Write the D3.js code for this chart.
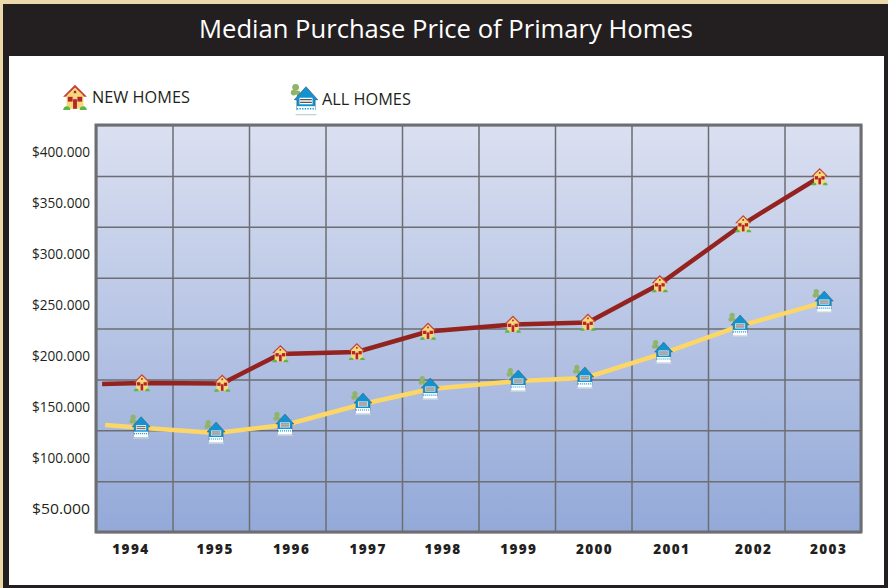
<!DOCTYPE html>
<html lang="en">

<head>
	<meta charset="UTF-8">
	<title>Median Purchase Price of Primary Homes</title>
	<script src="https://cdn.jsdelivr.net/npm/d3@7/dist/d3.min.js" charset="UTF-8"></script>
	<style>
		body { margin: 0; background: #fff; }
		svg { display: block; }
	</style>
</head>

<body>
	<script>
	var years = [1994, 1995, 1996, 1997, 1998, 1999, 2000, 2001, 2002, 2003];
	// where each year label sits on the time axis in the picture
	var yearLabelTimes = [1993.95, 1995.05, 1996.05, 1997.05, 1998.03, 1999.02, 2000.01, 2001.02, 2002.09, 2003.07];
	var gridTimes = [1993.5, 1994.5, 1995.5, 1996.5, 1997.5, 1998.5, 1999.5, 2000.5, 2001.5, 2002.5, 2003.5];
	var gridPrices = [25000, 75000, 125000, 175000, 225000, 275000, 325000, 375000, 425000];
	var priceLabels = [50000, 100000, 150000, 200000, 250000, 300000, 350000, 400000];

	// the lines start a little before the first house, so one extra leading point
	var newTimes = [1993.58, 1994.10, 1995.15, 1995.91, 1996.91, 1997.84, 1998.95, 1999.93, 2000.87, 2001.96, 2002.96];
	var newPrices = [170500, 171400, 171000, 200000, 202000, 222000, 228900, 230900, 268700, 327700, 373900];
	var allTimes = [1993.62, 1994.09, 1995.07, 1995.97, 1996.99, 1997.87, 1999.02, 1999.89, 2000.92, 2001.92, 2003.02];
	var allPrices = [130200, 127500, 122300, 130200, 150800, 165500, 173400, 176400, 200900, 227500, 251000];

	var width = 888,
		height = 588;

	var plot = {
		left: 96,
		right: 861,
		top: 125,
		bottom: 532
	};

	var svg = d3.select('body').append('svg')
		.attr('width', width)
		.attr('height', height);

	var defs = svg.append('defs');

	var grad = defs.append('linearGradient')
		.attr('id', 'plotFill')
		.attr('x1', 0).attr('y1', 0)
		.attr('x2', 0).attr('y2', 1);
	grad.append('stop').attr('offset', '0%').attr('stop-color', '#dbe0f1');
	grad.append('stop').attr('offset', '100%').attr('stop-color', '#93a9d8');

	// small house, drawn around 0,0 in a 24 unit box
	var newHouse = defs.append('g').attr('id', 'newHouse');
	newHouse.append('rect').attr('x', -7).attr('y', -3).attr('width', 14).attr('height', 12).attr('fill', '#f5d77c');
	newHouse.append('path').attr('d', 'M0,-11 L10,-1 L7.5,-1 L0,-8.5 L-7.5,-1 L-10,-1 Z').attr('fill', '#c8423a');
	newHouse.append('path').attr('d', 'M0,-8.5 L7,-2 L-7,-2 Z').attr('fill', '#f5d77c');
	newHouse.append('rect').attr('x', -6).attr('y', -1).attr('width', 4).attr('height', 4).attr('fill', '#b5252a');
	newHouse.append('rect').attr('x', 2).attr('y', -1).attr('width', 4).attr('height', 4).attr('fill', '#b5252a');
	newHouse.append('rect').attr('x', -1.6).attr('y', 1).attr('width', 3.2).attr('height', 8).attr('fill', '#b5252a');
	newHouse.append('rect').attr('x', -1).attr('y', -6).attr('width', 2).attr('height', 2).attr('fill', '#b5252a');
	newHouse.append('path').attr('d', 'M-10,10 Q-9,6 -6,7 Q-4,7 -4,10 Z M4,10 Q4,7 6,7 Q9,6 10,10 Z').attr('fill', '#5fb544');

	var allHouse = defs.append('g').attr('id', 'allHouse');
	allHouse.append('path').attr('d', 'M-6,-2 L-7,-8').attr('stroke', '#7b8a5a').attr('stroke-width', 1).attr('fill', 'none');
	allHouse.append('circle').attr('cx', -8).attr('cy', -10.5).attr('r', 2.6).attr('fill', '#8fb46a');
	allHouse.append('circle').attr('cx', -9.5).attr('cy', -6.5).attr('r', 2.2).attr('fill', '#8fb46a');
	allHouse.append('circle').attr('cx', -6).attr('cy', -6).attr('r', 1.8).attr('fill', '#8fb46a');
	allHouse.append('path').attr('d', 'M0,-11 L9,-1 L7,-1 L7,7 L-7,7 L-7,-1 L-9,-1 Z').attr('fill', '#1293d0').attr('stroke', '#34566e').attr('stroke-width', 0.5);
	allHouse.append('rect').attr('x', -5).attr('y', -2.5).attr('width', 10).attr('height', 5).attr('fill', '#fff');
	allHouse.append('path').attr('d', 'M-4.5,-1 H4.5 M-4.5,1 H4.5').attr('stroke', '#555').attr('stroke-width', 1).attr('fill', 'none');
	allHouse.append('rect').attr('x', -7).attr('y', 4).attr('width', 14).attr('height', 5.5).attr('fill', '#fff');
	allHouse.append('path').attr('d', 'M-7,6 H7').attr('stroke', '#1293d0').attr('stroke-width', 1.2).attr('stroke-dasharray', '1 1').attr('fill', 'none');
	allHouse.append('path').attr('d', 'M-8,10.5 H8').attr('stroke', '#c3d3dc').attr('stroke-width', 1).attr('fill', 'none');

	var xScale = d3.scaleLinear()
		.domain([1993.5, 2003.5])
		.range([plot.left, plot.right]);
	var yScale = d3.scaleLinear()
		.domain([25000, 425000])
		.range([plot.bottom, plot.top]);

	var priceFormat = d3.formatLocale({
		decimal: ',',
		thousands: '.',
		grouping: [3],
		currency: ['$', '']
	}).format('$,');

	function drawFrame() {
		svg.append('rect').attr('width', width).attr('height', height).attr('fill', '#ecd9ab');
		svg.append('rect').attr('x', 3).attr('y', 4).attr('width', width - 3).attr('height', height - 4).attr('fill', '#231f20');
		svg.append('rect').attr('x', 9).attr('y', 56).attr('width', 875).attr('height', 529).attr('fill', '#fff');

		svg.append('text')
			.attr('x', 446)
			.attr('y', 38)
			.attr('text-anchor', 'middle')
			.attr('font-family', '"Open Sans", sans-serif')
			.attr('font-size', 25.6)
			.attr('fill', '#fff')
			.text('Median Purchase Price of Primary Homes');
	}

	function drawGrid() {
		svg.append('rect')
			.attr('x', plot.left)
			.attr('y', plot.top)
			.attr('width', plot.right - plot.left)
			.attr('height', plot.bottom - plot.top)
			.attr('fill', 'url(#plotFill)');

		var xGrid = d3.axisBottom(xScale)
			.tickValues(gridTimes)
			.tickSize(plot.top - plot.bottom)
			.tickFormat('');
		var yGrid = d3.axisLeft(yScale)
			.tickValues(gridPrices)
			.tickSize(plot.left - plot.right)
			.tickFormat('');

		svg.append('g')
			.attr('transform', `translate(0,${plot.bottom})`)
			.call(xGrid)
			.call(g => g.select('.domain').remove())
			.selectAll('line').attr('stroke', '#6d6e72').attr('stroke-width', 1.5);

		svg.append('g')
			.attr('transform', `translate(${plot.left},0)`)
			.call(yGrid)
			.call(g => g.select('.domain').remove())
			.selectAll('line').attr('stroke', '#6d6e72').attr('stroke-width', 1.5);

		svg.append('rect')
			.attr('x', plot.left)
			.attr('y', plot.top)
			.attr('width', plot.right - plot.left)
			.attr('height', plot.bottom - plot.top)
			.attr('fill', 'none')
			.attr('stroke', '#6d6e72')
			.attr('stroke-width', 3);
	}

	function drawAxis() {
		var yAxis = d3.axisLeft(yScale)
			.tickValues(priceLabels)
			.tickSize(0)
			.tickPadding(6)
			.tickFormat(priceFormat);

		var yLabels = svg.append('g')
			.attr('transform', `translate(${plot.left},0)`)
			.call(yAxis);
		yLabels.select('.domain').remove();
		yLabels.selectAll('text')
			.attr('font-family', '"Open Sans", sans-serif')
			.attr('font-size', 14.5)
			.attr('fill', '#231f20')
			.attr('dy', '0.45em')
			.attr('textLength', 58)
			.attr('lengthAdjust', 'spacingAndGlyphs');

		var xAxis = d3.axisBottom(xScale)
			.tickValues(yearLabelTimes)
			.tickSize(0)
			.tickPadding(12)
			.tickFormat((d, i) => years[i]);

		var xLabels = svg.append('g')
			.attr('transform', `translate(0,${plot.bottom})`)
			.call(xAxis);
		xLabels.select('.domain').remove();
		xLabels.selectAll('text')
			.attr('font-family', '"Open Sans", sans-serif')
			.attr('font-size', 13.5)
			.attr('font-weight', 800)
			.attr('letter-spacing', 1.4)
			.attr('fill', '#231f20');
	}

	function drawSeries(times, prices, color, icon, iconScale) {
		var points = times.map((t, i) => [t, prices[i]]);
		var line = d3.line()
			.x(d => xScale(d[0]))
			.y(d => yScale(d[1]));

		svg.append('path')
			.datum(points)
			.attr('d', line)
			.attr('fill', 'none')
			.attr('stroke', color)
			.attr('stroke-width', 4.5);

		svg.append('g').selectAll('use')
			.data(points.slice(1))
			.enter().append('use')
			.attr('href', '#' + icon)
			.attr('transform', d => `translate(${xScale(d[0])},${yScale(d[1])}) scale(${iconScale})`);
	}

	function drawLegend() {
		var items = [
			{ icon: 'newHouse', label: 'NEW HOMES', ix: 75, iy: 98, size: 1.2, tx: 92, ty: 103 },
			{ icon: 'allHouse', label: 'ALL HOMES', ix: 306, iy: 101, size: 1.3, tx: 322, ty: 105 }
		];
		items.forEach(function (d) {
			svg.append('use')
				.attr('href', '#' + d.icon)
				.attr('transform', `translate(${d.ix},${d.iy}) scale(${d.size})`);
			svg.append('text')
				.attr('x', d.tx)
				.attr('y', d.ty)
				.attr('font-family', '"Open Sans", sans-serif')
				.attr('font-size', 16.3)
				.attr('fill', '#231f20')
				.text(d.label);
		});
	}

	drawFrame();
	drawGrid();
	drawAxis();
	drawSeries(newTimes, newPrices, '#94221f', 'newHouse', 0.82);
	drawSeries(allTimes, allPrices, '#fdd766', 'allHouse', 1);
	drawLegend();
	</script>

</body>

</html>
